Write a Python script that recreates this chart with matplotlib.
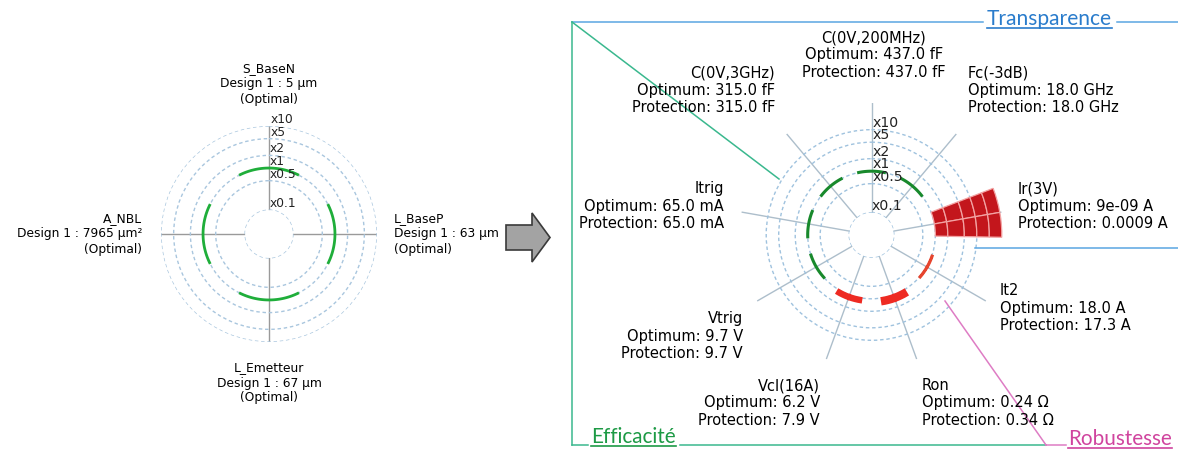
import numpy as np
import matplotlib
matplotlib.use("Agg")
import matplotlib.pyplot as plt
from matplotlib.lines import Line2D
from matplotlib.patches import Polygon
from matplotlib.ticker import NullLocator, NullFormatter

# ---------------- data ----------------
left_params = ["S_BaseN", "L_BaseP", "L_Emetteur", "A_NBL"]
left_values = ["5 µm", "63 µm", "67 µm", "7965 µm²"]
left_ratio = [1.0, 1.0, 1.0, 1.0]

right_params = ["C(0V,200MHz)", "Fc(-3dB)", "Ir(3V)", "It2", "Ron",
                "Vcl(16A)", "Vtrig", "Itrig", "C(0V,3GHz)"]
right_optimum = [437.0, 18.0, 9e-09, 18.0, 0.24, 6.2, 9.7, 65.0, 315.0]
right_protection = [437.0, 18.0, 0.0009, 17.3, 0.34, 7.9, 9.7, 65.0, 315.0]
right_units = ["fF", "GHz", "A", "A", "Ω", "V", "V", "mA", "fF"]

radial_ticks = [0.1, 0.5, 1, 2, 5, 10]
radial_labels = ["x0.1", "x0.5", "x1", "x2", "x5", "x10"]
segment_levels = [2, 5, 10, 20, 40]

# ---------------- figure ----------------
W, H = 1178, 450
fig = plt.figure(figsize=(W / 100, H / 100), dpi=100)
fig.patch.set_facecolor("white")


def fx(x):
    return x / W


def fy(y):
    return 1 - y / H


def make_polar(cx, cy, R, rmax, rorigin, n, spoke_color, grid_color, lab_size):
    ax = fig.add_axes([fx(cx - R), fy(cy + R), 2 * R / W, 2 * R / H],
                      projection="polar")
    ax.set_theta_zero_location("N")
    ax.set_theta_direction(-1)
    ax.set_rscale("log")
    ax.set_rlim(0.1, rmax)
    ax.set_rorigin(rorigin)
    angles = np.arange(n) * 2 * np.pi / n
    ax.set_xticks(angles)
    ax.set_xticklabels([])
    ax.set_yticks(radial_ticks)
    ax.set_yticklabels([])
    ax.yaxis.set_minor_locator(NullLocator())
    ax.yaxis.set_minor_formatter(NullFormatter())
    ax.tick_params(length=0)
    ax.xaxis.grid(True, color=spoke_color, lw=1.0, ls="-")
    ax.yaxis.grid(True, color=grid_color, lw=1.0, ls=(0, (2.5, 2)))
    ax.set_axisbelow(True)
    for s in ax.spines.values():
        s.set_color("none")
        s.set_linewidth(0)
    ax.patch.set_alpha(0)
    for v, lab in zip(radial_ticks, radial_labels):
        ax.text(0.012, v, lab, ha="left", va="bottom", fontsize=lab_size,
                color="#222222", zorder=5)
    return ax, angles


# ---------------- left chart ----------------
axL, angL = make_polar(269, 234, 108, 10, 0.027, len(left_params),
                       "#9a9a9a", "#a9c6de", 8.8)
wL = 2 * np.pi / len(left_params) * 0.6
for th, r in zip(angL, left_ratio):
    t = np.linspace(th - wL / 2, th + wL / 2, 60)
    axL.plot(t, np.full_like(t, r), color="#1fae3a", lw=2.0, solid_capstyle="butt")

fsL = 8.8
fig.text(fx(269), fy(84), f"{left_params[0]}\nDesign 1 : {left_values[0]}\n(Optimal)",
         ha="center", va="center", fontsize=fsL, multialignment="center", linespacing=1.2)
fig.text(fx(394), fy(234), f"{left_params[1]}\nDesign 1 : {left_values[1]}\n(Optimal)",
         ha="left", va="center", fontsize=fsL, multialignment="left", linespacing=1.2)
fig.text(fx(269), fy(383), f"{left_params[2]}\nDesign 1 : {left_values[2]}\n(Optimal)",
         ha="center", va="center", fontsize=fsL, multialignment="center", linespacing=1.2)
fig.text(fx(142), fy(234), f"{left_params[3]}\nDesign 1 : {left_values[3]}\n(Optimal)",
         ha="right", va="center", fontsize=fsL, multialignment="right", linespacing=1.2)

# ---------------- arrow ----------------
arrow_pts = [(506, 225), (532, 225), (532, 213), (550, 237.5), (532, 262),
             (532, 250), (506, 250)]
fig.add_artist(Polygon([(fx(x), fy(y)) for x, y in arrow_pts], closed=True,
                       transform=fig.transFigure, facecolor="#a3a3a3",
                       edgecolor="#3a3a3a", lw=1.2))

# ---------------- right chart ----------------
axR, angR = make_polar(871.5, 235, 132, 44, 0.029, len(right_params),
                       "#adbecb", "#9fc2de", 10.2)
spacing = 2 * np.pi / len(right_params)
ratios = [max(p / o, o / p) for o, p in zip(right_optimum, right_protection)]
cap = max(segment_levels)
for th, r in zip(angR, ratios):
    if abs(r - 1) < 1e-9:
        w = spacing * 0.65
        t = np.linspace(th - w / 2, th + w / 2, 40)
        axR.plot(t, np.full_like(t, r), color="#18892c", lw=2.2, solid_capstyle="butt")
    else:
        w = spacing * 0.55
        top = min(r, cap)
        bounds = [1.0] + [b for b in segment_levels if 1 < b < top] + [top]
        if len(bounds) > 2:
            col, ec, lw = "#c3161c", "#f3a3a3", 0.9
        elif r > 1.1:
            col, ec, lw = "#ee2a22", "#ee2a22", 1.5
        else:
            col, ec, lw = "#e6452e", "#e6452e", 1.8
        for half in (-1, 1):
            for b0, b1 in zip(bounds[:-1], bounds[1:]):
                axR.bar(th + half * w / 4, b1 - b0, bottom=b0, width=w / 2,
                        color=col, edgecolor=ec, lw=lw, zorder=1)

fsR = 10.5


def rlabel(i):
    return (f"{right_params[i]}\nOptimum: {right_optimum[i]} {right_units[i]}\n"
            f"Protection: {right_protection[i]} {right_units[i]}")


label_pos = [  # (x, y_center, ha)
    (874, 55, "center"),
    (968, 90, "left"),
    (1018, 206, "left"),
    (1000, 308, "left"),
    (922, 403, "left"),
    (820, 403, "right"),
    (743, 336, "right"),
    (724, 206, "right"),
    (775, 90, "right"),
]
for i, (x, y, ha) in enumerate(label_pos):
    fig.text(fx(x), fy(y), rlabel(i), ha=ha, va="center", fontsize=fsR,
             multialignment=ha if ha != "center" else "center", linespacing=1.2)

# ---------------- group frame ----------------
blue, blue_l = "#2a7ccc", "#5aa6e2"
green, green_l = "#1d9a45", "#3ab88e"
pink, pink_l = "#d0449e", "#de7cc4"


def fline(xs, ys, color, lw=1.1):
    fig.add_artist(Line2D([fx(x) for x in xs], [fy(y) for y in ys],
                          transform=fig.transFigure, color=color, lw=lw))


fline([572, 983], [22, 22], blue_l)
fline([1117, 1178], [22, 22], blue_l)
fline([975, 1178], [248, 248], blue_l)
fline([572, 572], [22, 445], green_l)
fline([572, 588], [445, 445], green_l)
fline([680, 1046], [445, 445], green_l)
fline([572, 779], [22, 179], green_l)
fline([945, 1046], [301, 445], pink_l)
fline([1046, 1066], [445, 445], pink_l)

titles = [("Transparence", 987, 1112, 19, blue),
          ("Efficacité", 591, 676, 437, green),
          ("Robustesse", 1068, 1172, 439, pink)]
fig.canvas.draw()
rend = fig.canvas.get_renderer()
for txt, x0, x1, yc, col in titles:
    t = fig.text(fx(x0), fy(yc), txt, ha="left", va="center", color=col,
                 fontsize=15, family=["Lato", "DejaVu Sans"])
    bb = t.get_window_extent(rend)
    t.set_fontsize(15 * (x1 - x0) / bb.width)
    bb = t.get_window_extent(rend)
    yb = fy(yc) * H - bb.height / 2 + 1
    fig.add_artist(Line2D([bb.x0 / W, bb.x1 / W], [yb / H, yb / H],
                          transform=fig.transFigure, color=col, lw=1.2))

fig.savefig("out.png", dpi=100, facecolor="white")
